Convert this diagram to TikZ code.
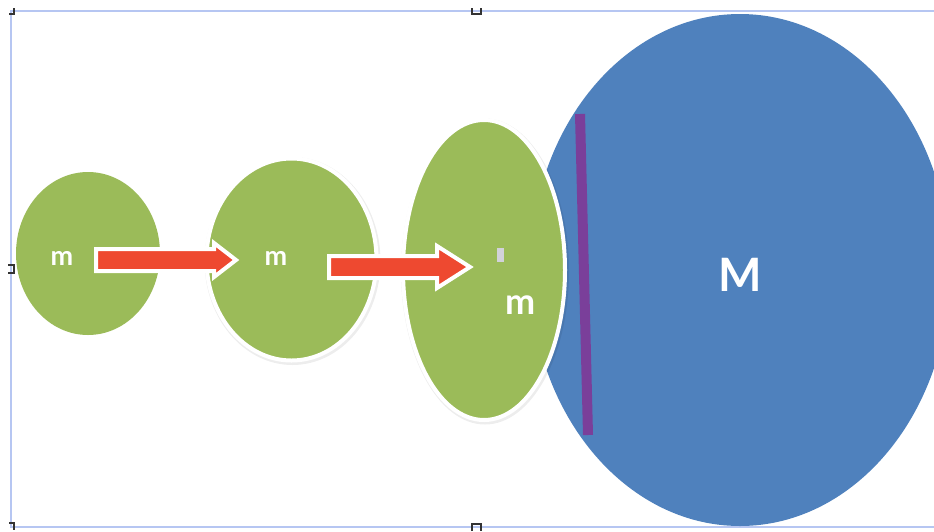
\documentclass[tikz,border=0pt]{standalone}
\usepackage{fontspec}
\setmainfont{Lato}
\definecolor{leafgreen}{HTML}{9BBB59}
\definecolor{bodyblue}{HTML}{4F81BD}
\definecolor{pushred}{HTML}{EE4930}
\definecolor{wallpurple}{HTML}{7A3F9A}
\definecolor{framebl}{HTML}{B6C6F2}
\definecolor{markgray}{HTML}{D2D2DA}
\tikzset{
  x=1pt, y=-1pt,
  smallbody/.style={fill=leafgreen, draw=none},
  ringbody/.style={fill=leafgreen, draw=white, line width=4pt},
  bodyshadow/.style={fill=black, fill opacity=0.07, draw=none},
  blockarrow/.style={fill=pushred, draw=white, line width=4pt, line join=miter},
  masslabel/.style={text=white, inner sep=0pt},
  handle/.style={draw=black!80, line width=1.2pt},
}
\begin{document}
\begin{tikzpicture}
\useasboundingbox (0,0) rectangle (934,531);
\clip (0,0) rectangle (934,531);

% selection frame
\draw[framebl, line width=1.5pt] (950,11) -- (11,11) -- (11,527) -- (950,527);
% frame handles
\draw[handle] (9,14) -- (14,14) -- (14,8);
\draw[handle] (472,8) -- (472,14) -- (481,14) -- (481,8);
\draw[handle] (8,265) -- (14,265) -- (14,273) -- (8,273);
\draw[handle] (9,523) -- (14,523) -- (14,530);
\draw[handle] (472,531) -- (472,524) -- (481,524) -- (481,531);

% large body
\fill[bodyblue] (740,270) ellipse [x radius=210, y radius=256];
\node[masslabel, font=\fontsize{46}{46}\selectfont\bfseries] (bigM) at (740,275) {M};

% wall on the large body
\draw[wallpurple, line width=10pt] (580,114) -- (588,435);

% first small body
\fill[smallbody] (88,253.5) ellipse [x radius=72, y radius=81.5];
\node[masslabel, font=\fontsize{27}{27}\selectfont\bfseries] (m1) at (62,258) {m};

% second body, stretched
\fill[bodyshadow] (292.5,261) ellipse [x radius=88, y radius=104];
\draw[ringbody] (291.5,259.5) ellipse [x radius=85, y radius=101];
\node[masslabel, font=\fontsize{27}{27}\selectfont\bfseries] (m2) at (276,258) {m};

% third body, stretched further
\fill[bodyshadow] (485,271.5) ellipse [x radius=84, y radius=153];
\draw[ringbody] (484,270) ellipse [x radius=81, y radius=150];
\node[masslabel, font=\fontsize{36}{36}\selectfont\bfseries] (m3) at (521,305) {m};
\fill[markgray] (497,248) rectangle (504,262);

% arrows between the stages
\draw[blockarrow] (96,249) -- (214,249) -- (214,243) -- (236,260)
  -- (214,277) -- (214,271) -- (96,271) -- cycle;
\draw[blockarrow] (329,256) -- (437,256) -- (437,246) -- (470,267)
  -- (437,288) -- (437,278) -- (329,278) -- cycle;
\end{tikzpicture}
\end{document}
